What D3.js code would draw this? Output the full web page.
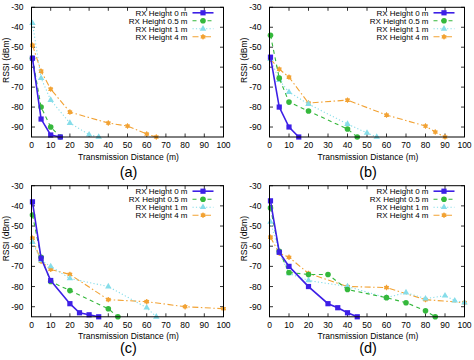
<!DOCTYPE html>
<html>
<head>
<meta charset="utf-8">
<script src="https://cdn.jsdelivr.net/npm/d3@7"></script>
<style>
  body { margin: 0; background: #fff; }
  svg { display: block; }
  text { font-family: "Liberation Sans", Arial, Helvetica, sans-serif; fill: #000; }
</style>
</head>
<body>
<svg id="chart" width="474" height="360"></svg>
<script>
// series names and tick values
const heights = ["RX Height 0 m", "RX Height 0.5 m", "RX Height 1 m", "RX Height 4 m"];
const xTicks = [0, 10, 20, 30, 40, 50, 60, 70, 80, 90, 100];
const yTicks = [-30, -40, -50, -60, -70, -80, -90];
const panelLabels = ["(a)", "(b)", "(c)", "(d)"];

// [distance (m), RSSI (dBm)] per panel / rx height
const a_h0  = [[0.5,-55.5],[5,-86],[10,-94],[15,-95]];
const a_h05 = [[0.5,-55.5],[5,-80],[10,-90],[15,-95]];
const a_h1  = [[0.5,-38],[5,-65.5],[10,-76.5],[20,-88],[30,-93.8],[35,-95]];
const a_h4  = [[0.5,-49],[5,-62],[10,-71],[20,-82.5],[40,-88],[50,-89.5],[60,-93.5],[65,-95]];

const b_h0  = [[0.5,-55],[5,-80],[10,-90],[15,-95]];
const b_h05 = [[0.5,-44],[5,-65.5],[10,-77.5],[20,-82],[40,-91],[45,-95]];
const b_h1  = [[0.5,-56],[5,-66.5],[10,-72.5],[20,-78.5],[40,-88.5],[50,-93],[55,-95]];
const b_h4  = [[0.5,-56],[5,-61],[10,-65],[20,-78],[40,-76.5],[60,-84],[80,-89.5],[85,-92.5],[90,-95]];

const c_h0  = [[0.5,-38],[5,-66],[10,-77],[20,-88.5],[25,-93],[30,-94],[35,-95]];
const c_h05 = [[0.5,-44.5],[5,-65.5],[10,-77.5],[20,-82],[40,-91],[45,-95]];
const c_h1  = [[0.5,-58],[5,-67],[10,-70],[20,-76],[40,-80],[60,-90.5],[65,-95]];
const c_h4  = [[0.5,-56],[5,-67.5],[10,-71.5],[20,-74],[40,-86.5],[60,-87.5],[80,-90],[100,-91]];

const d_h0  = [[0.5,-37.5],[5,-63],[10,-70],[20,-80],[30,-88.5],[35,-90.5],[40,-93],[45,-95]];
const d_h05 = [[0.5,-41],[5,-62.5],[10,-73],[20,-74],[30,-74],[40,-81.5],[60,-85.5],[70,-88],[80,-92],[85,-95]];
const d_h1  = [[0.5,-48],[5,-63],[10,-73.5],[20,-77],[40,-80],[60,-85.5],[70,-83],[80,-86],[90,-84.5],[95,-87],[100,-88]];
const d_h4  = [[0.5,-55.5],[5,-63.5],[10,-65.5],[20,-73.5],[40,-80],[60,-80.5],[80,-86.5],[100,-88]];

const panels = [
  [a_h0, a_h05, a_h1, a_h4],
  [b_h0, b_h05, b_h1, b_h4],
  [c_h0, c_h05, c_h1, c_h4],
  [d_h0, d_h05, d_h1, d_h4]
];

// plot boxes (left, right, top, bottom) for each panel
const boxes = [
  {l: 31.5, r: 223.5, t: 7.3, b: 137},
  {l: 269.5, r: 464.5, t: 7.3, b: 137},
  {l: 31.5, r: 223.5, t: 185.7, b: 316.8},
  {l: 269.5, r: 464.5, t: 185.7, b: 316.8}
];
const labelY = [172, 172, 348, 348];

// line / marker styles per rx height
const styles = [
  {color: "#3d1fe6", width: 1.6, dash: null, marker: "square"},
  {color: "#35b83c", width: 1.1, dash: "4,3.5", marker: "circle"},
  {color: "#86dde9", width: 1.1, dash: "1.2,2.2", marker: "triangle"},
  {color: "#f2a233", width: 1.1, dash: "6,2.5,1.5,2.5", marker: "star"}
];

const svg = d3.select("#chart");

function drawMarker(g, kind, color, x, y) {
  if (kind === "square") {
    g.append("rect").attr("x", x - 2.6).attr("y", y - 2.6)
      .attr("width", 5.2).attr("height", 5.2).attr("fill", color);
  } else if (kind === "circle") {
    g.append("circle").attr("cx", x).attr("cy", y).attr("r", 2.8).attr("fill", color);
  } else if (kind === "triangle") {
    g.append("path").attr("d", d3.symbol(d3.symbolTriangle, 18)())
      .attr("transform", `translate(${x},${y})`).attr("fill", color);
  } else {
    g.append("path").attr("d", d3.symbol(d3.symbolAsterisk, 20)())
      .attr("transform", `translate(${x},${y})`)
      .attr("stroke", color).attr("stroke-width", 1.1).attr("fill", "none");
    g.append("circle").attr("cx", x).attr("cy", y).attr("r", 2.1).attr("fill", color);
  }
}

function drawPanel(series, box, label, ly) {
  const x = d3.scaleLinear().domain([0, 100]).range([box.l, box.r]);
  const y = d3.scaleLinear().domain([-95, -30]).range([box.b, box.t]);
  const g = svg.append("g");

  // ticks inside, mirrored on top/right (gnuplot style)
  const tick = 3.5;
  const axes = g.append("g").attr("stroke", "#000").attr("stroke-width", 0.8);
  xTicks.forEach(v => {
    axes.append("line").attr("x1", x(v)).attr("x2", x(v)).attr("y1", box.b).attr("y2", box.b - tick);
    axes.append("line").attr("x1", x(v)).attr("x2", x(v)).attr("y1", box.t).attr("y2", box.t + tick);
  });
  yTicks.forEach(v => {
    axes.append("line").attr("x1", box.l).attr("x2", box.l + tick).attr("y1", y(v)).attr("y2", y(v));
    axes.append("line").attr("x1", box.r).attr("x2", box.r - tick).attr("y1", y(v)).attr("y2", y(v));
  });

  g.selectAll(".xt").data(xTicks).enter().append("text")
    .attr("x", d => x(d)).attr("y", box.b + 11)
    .attr("text-anchor", "middle").attr("font-size", 8.5).text(d => d);
  g.selectAll(".yt").data(yTicks).enter().append("text")
    .attr("x", box.l - 8).attr("y", d => y(d) + 3)
    .attr("text-anchor", "end").attr("font-size", 8.5).text(d => d);

  g.append("text").attr("x", (box.l + box.r) / 2 + 1).attr("y", box.b + 22.5)
    .attr("text-anchor", "middle").attr("font-size", 8.5).text("Transmission Distance (m)");
  g.append("text")
    .attr("transform", `translate(${box.l - 22.5},${box.t + 53}) rotate(-90)`)
    .attr("text-anchor", "middle").attr("font-size", 8.5).text("RSSI (dBm)");
  g.append("text").attr("x", (box.l + box.r) / 2 + 1).attr("y", ly + 5)
    .attr("text-anchor", "middle").attr("font-size", 14.5).text(label);

  const line = d3.line().x(d => x(d[0])).y(d => y(d[1]));
  // draw 4 m first so 0 m ends up on top
  [3, 2, 1, 0].forEach(i => {
    const st = styles[i];
    const s = g.append("g");
    s.append("path").datum(series[i]).attr("d", line)
      .attr("fill", "none").attr("stroke", st.color).attr("stroke-width", st.width)
      .attr("stroke-dasharray", st.dash);
    series[i].forEach(p => drawMarker(s, st.marker, st.color, x(p[0]), y(p[1])));
  });

  // legend
  heights.forEach((name, i) => {
    const st = styles[i];
    const ry = box.t + 5.5 + i * 8;
    g.append("text").attr("x", box.r - 36).attr("y", ry + 3)
      .attr("text-anchor", "end").attr("font-size", 8).text(name);
    g.append("line").attr("x1", box.r - 31).attr("x2", box.r - 10)
      .attr("y1", ry).attr("y2", ry)
      .attr("stroke", st.color).attr("stroke-width", st.width)
      .attr("stroke-dasharray", st.dash);
    drawMarker(g, st.marker, st.color, box.r - 20.5, ry);
  });

  g.append("rect").attr("x", box.l).attr("y", box.t)
    .attr("width", box.r - box.l).attr("height", box.b - box.t)
    .attr("fill", "none").attr("stroke", "#000").attr("stroke-width", 1);
}

panels.forEach((series, i) => drawPanel(series, boxes[i], panelLabels[i], labelY[i]));
</script>
</body>
</html>
